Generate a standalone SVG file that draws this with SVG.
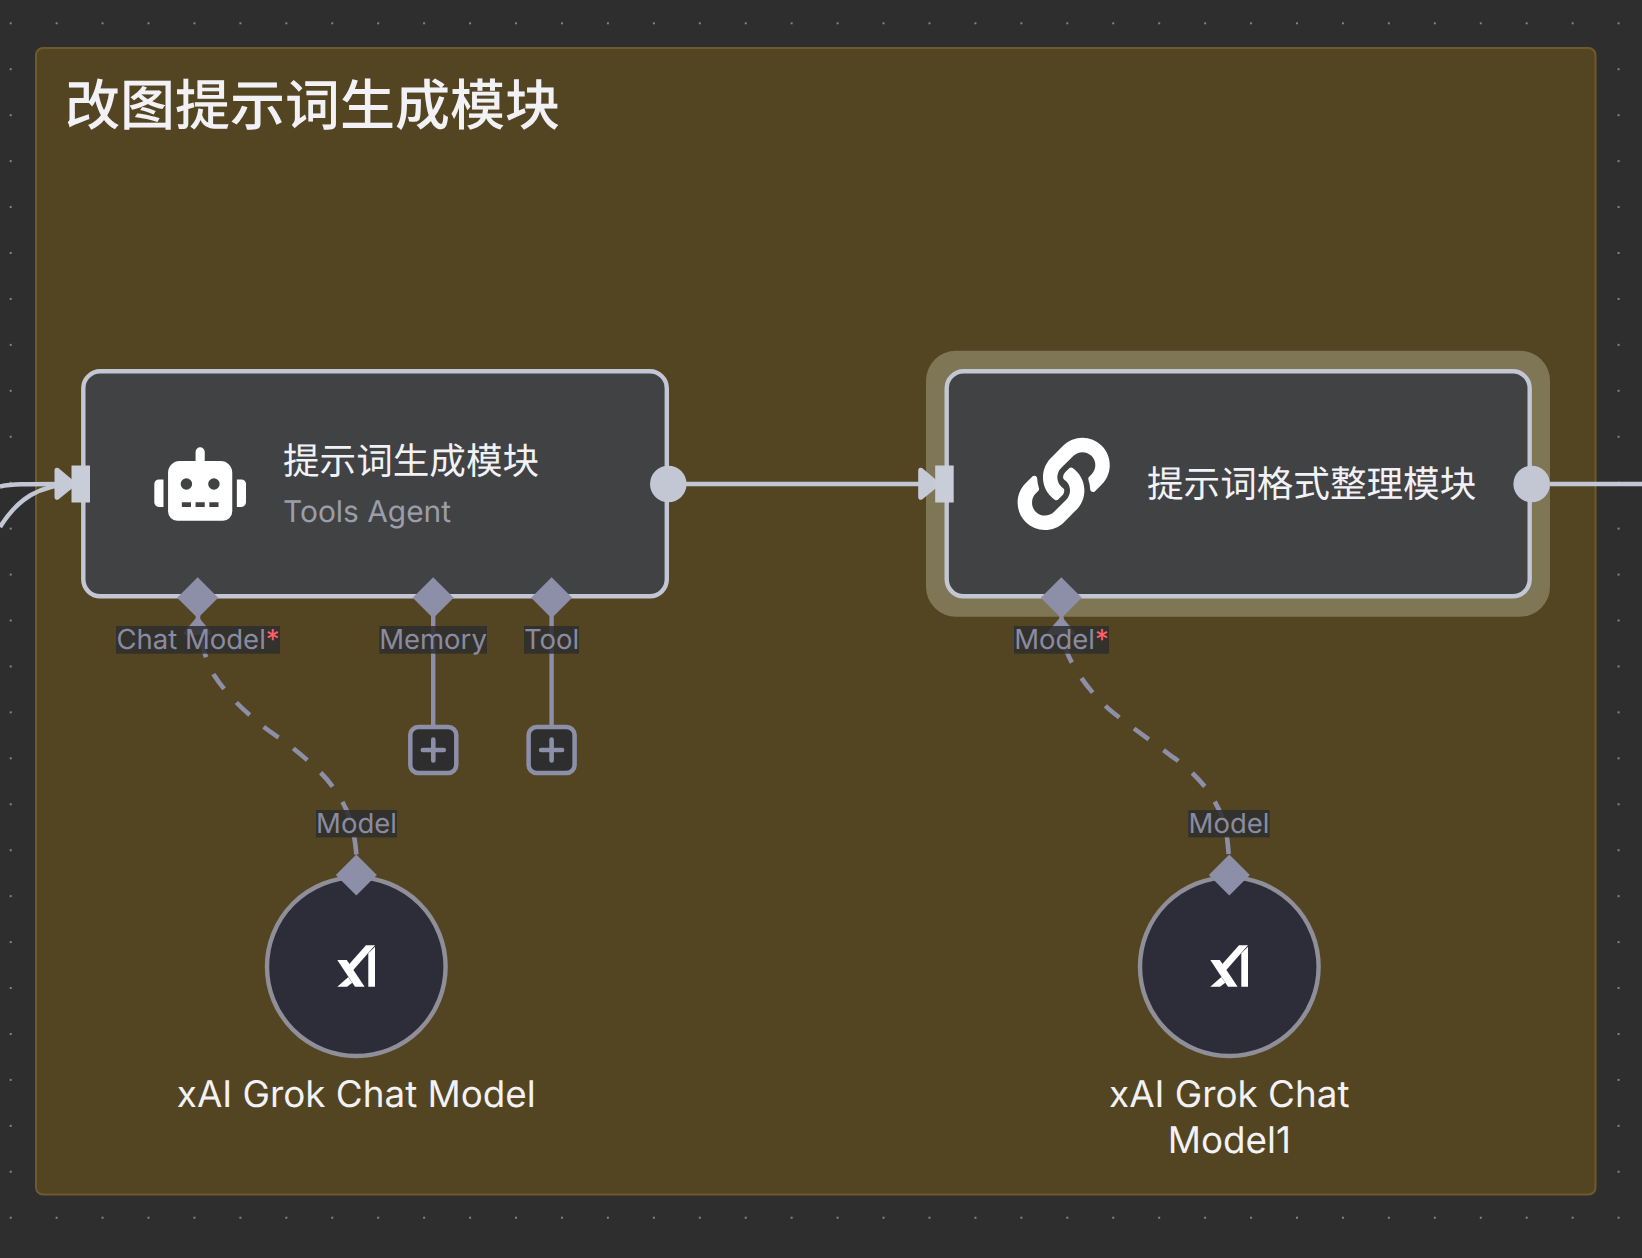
<svg xmlns="http://www.w3.org/2000/svg" width="1642" height="1258" viewBox="0 0 1642 1258">
<defs>
<pattern id="dots" x="9.7" y="22.3" width="45.94" height="45.94" patternUnits="userSpaceOnUse"><circle cx="1" cy="1" r="1.05" fill="#8f8f8f"/></pattern>
<path id="diamond" d="M0 -20.5L20.5 0L0 20.5L-20.5 0Z" fill="#8d8ea7"/>
<g id="inport"><path d="M-16 -13.5Q-16 -16 -13.5 -15L2 -2Q4 0 2 2L-13.5 14.5Q-16 15.5 -16 13Z" fill="#c6cad6" stroke="#c6cad6" stroke-width="2" stroke-linejoin="round"/><rect x="0" y="-18.5" width="18.5" height="37" fill="#c9cdd8"/></g>
<g id="addbtn"><rect x="-23" y="-23" width="46" height="46" rx="8" fill="#2e2e2e" stroke="#8d8ea7" stroke-width="4.5"/><path d="M-10.5 0H10.5M0 -10.5V10.5" fill="none" stroke="#8d8ea7" stroke-width="4.6" stroke-linecap="round"/></g>
<g id="grok" fill="#fff"><path d="M337.3 960H346.8L364.6 986.7H355Z"/><path d="M366 945.3H375L352 971.6L348 965.6Z"/><path d="M337.3 986.7L348.3 977L352.3 982.7L347 986.7Z"/><path d="M368.3 953.3L375 946.8V986.7H368.3Z"/></g>
</defs>
<style>
text{font-family:"Inter","Noto Sans CJK SC",sans-serif;text-rendering:geometricPrecision}
.node-box{fill:#414244;stroke:#c2c7d3;stroke-width:4.4}
.edge{fill:none;stroke:#c2c7d3;stroke-width:4.4}
.stem{fill:none;stroke:#8d8ea7;stroke-width:4.4}
.dash{fill:none;stroke:#8d8ea7;stroke-width:4.6;stroke-dasharray:18.3 18.3}
.name{font-size:36.6px;fill:#f2f2f6}
.port{font-size:27.5px;fill:#8a8ba0;text-anchor:middle}
.lblbg{fill:#2e2e2e;opacity:.85}
.star{fill:#ff5f6d}
.circle{fill:#2d2d3a;stroke:#8e8f98;stroke-width:4.4}
.caption{font-size:36.8px;fill:#f2f2f6;text-anchor:middle}
</style>
<rect width="1642" height="1258" fill="#2e2e2e"/>
<rect width="1642" height="1258" fill="url(#dots)"/>
<g id="group-frame">
<rect x="36" y="48" width="1559.5" height="1146.5" rx="7" fill="#534522" stroke="#6f5a2a" stroke-width="2"/>
<text x="65" y="125" font-size="55" font-weight="500" fill="#f2f2f6">改图提示词生成模块</text>
</g>
<g id="connectors">
<path class="edge" d="M0 486.5C12 484 25 484 60 484"/>
<path class="edge" d="M0 527C14 505 30 490 60 485"/>
<path class="edge" d="M686 484H925"/>
<path class="edge" d="M1550 484H1642"/>
<path class="stem" d="M433.2 600V725"/>
<path class="stem" d="M551.6 600V725"/>
<path class="dash" d="M198 603.4L198 620C199 640 205 657 214 675C226 694 245 712 264 727C274 735 285 741 294 749C304 757 312 764 321 773C330 782 337 792 343 803C351 817 355 835 356.7 858"/>
<path class="dash" d="M1061.5 609.5L1061.5 625C1062 640 1067 654 1072 663C1081 679 1095 698 1113 712.5C1130 726 1150 740 1172 756.5C1185 765 1198 778 1206 788C1214 798 1222 815 1225 825C1227 835 1228 845 1229 858"/>
</g>
<g id="node-agent">
<rect class="node-box" x="83.3" y="371.3" width="583.5" height="225" rx="17"/>
<use href="#inport" x="71.5" y="484"/>
<circle cx="668.3" cy="484" r="18.3" fill="#c2c7d3"/>
<path transform="translate(154.3 447.3) scale(.1433)" fill="#fff" d="M32,224H64V416H32A31.96166,31.96166,0,0,1,0,384V256A31.96166,31.96166,0,0,1,32,224Zm512-48V448a64.06328,64.06328,0,0,1-64,64H160a64.06328,64.06328,0,0,1-64-64V176a79.974,79.974,0,0,1,80-80H288V32a32,32,0,0,1,64,0V96H464A79.974,79.974,0,0,1,544,176ZM264,256a40,40,0,1,0-40,40A39.997,39.997,0,0,0,264,256Zm-8,128H192v32h64Zm96,0H288v32h64ZM456,256a40,40,0,1,0-40,40A39.997,39.997,0,0,0,456,256Zm-8,128H384v32h64ZM640,256V384a31.96166,31.96166,0,0,1-32,32H576V224h32A31.96166,31.96166,0,0,1,640,256Z"/>
<text class="name" x="283" y="474">提示词生成模块</text>
<text x="283" y="522" font-size="29.9" fill="#9b9daa">Tools Agent</text>
<use href="#diamond" x="197.7" y="597.7"/>
<use href="#diamond" x="433.2" y="597.7"/>
<use href="#diamond" x="551.6" y="597.7"/>
<path d="M197.7 616L211 632Q212 635 209 635H186Q183 635 184 632Z" fill="#8d8ea7"/>
<rect class="lblbg" x="116" y="626" width="164" height="27.7"/>
<text class="port" x="198" y="649">Chat Model<tspan class="star">*</tspan></text>
<rect class="lblbg" x="379.3" y="626" width="107.7" height="27.7"/>
<text class="port" x="433" y="649">Memory</text>
<rect class="lblbg" x="524" y="626" width="55" height="27.7"/>
<text class="port" x="551.5" y="649">Tool</text>
<use href="#addbtn" x="433.3" y="750"/>
<use href="#addbtn" x="551.6" y="750"/>
</g>
<g id="node-formatter">
<rect x="926" y="350.7" width="624" height="266" rx="30" fill="#7f7656"/>
<rect class="node-box" x="946.7" y="371.3" width="583" height="225" rx="17"/>
<use href="#inport" x="935.2" y="484"/>
<circle cx="1531.7" cy="484" r="18.3" fill="#c2c7d3"/>
<path transform="translate(1017.6 437.8) scale(.18)" fill="#fff" d="M326.612 185.391c59.747 59.809 58.927 155.698.36 214.59-.11.12-.24.25-.36.37l-67.2 67.2c-59.27 59.27-155.699 59.262-214.96 0-59.27-59.26-59.27-155.7 0-214.96l37.106-37.106c9.84-9.84 26.786-3.3 27.294 10.606.648 17.722 3.826 35.527 9.69 52.721 1.986 5.822.567 12.262-3.783 16.612l-13.087 13.087c-28.026 28.026-28.905 73.66-1.155 101.96 28.024 28.579 74.086 28.749 102.325.51l67.2-67.19c28.191-28.191 28.073-73.757 0-101.83-3.701-3.694-7.429-6.564-10.341-8.569a16.037 16.037 0 0 1-6.947-12.606c-.396-10.567 3.348-21.456 11.698-29.806l21.054-21.055c5.521-5.521 14.182-6.199 20.584-1.731a152.482 152.482 0 0 1 20.522 17.197zM467.547 44.449c-59.261-59.262-155.69-59.27-214.96 0l-67.2 67.2c-.12.12-.25.25-.36.37-58.566 58.892-59.387 154.781.36 214.59a152.454 152.454 0 0 0 20.521 17.196c6.402 4.468 15.064 3.789 20.584-1.731l21.054-21.055c8.35-8.35 12.094-19.239 11.698-29.806a16.037 16.037 0 0 0-6.947-12.606c-2.912-2.005-6.64-4.875-10.341-8.569-28.073-28.073-28.191-73.639 0-101.83l67.2-67.19c28.239-28.239 74.3-28.069 102.325.51 27.75 28.3 26.872 73.934-1.155 101.96l-13.087 13.087c-4.35 4.35-5.769 10.79-3.783 16.612 5.864 17.194 9.042 34.999 9.69 52.721.509 13.906 17.454 20.446 27.294 10.606l37.106-37.106c59.271-59.259 59.271-155.699.001-214.959z"/>
<text class="name" x="1147" y="497">提示词格式整理模块</text>
<use href="#diamond" x="1061.3" y="597.7"/>
<path d="M1061.3 616L1074.6 632Q1075.6 635 1072.6 635H1049.6Q1046.6 635 1047.6 632Z" fill="#8d8ea7"/>
<rect class="lblbg" x="1014" y="626" width="95" height="27.7"/>
<text class="port" x="1061.5" y="649">Model<tspan class="star">*</tspan></text>
</g>
<g id="node-grok">
<circle class="circle" cx="356.3" cy="966.7" r="89.3"/>
<use href="#grok"/>
<use href="#diamond" x="356.3" y="875"/>
<rect class="lblbg" x="316" y="810" width="81" height="27.4"/>
<text class="port" x="356.5" y="833">Model</text>
<text class="caption" x="356.3" y="1107">xAI Grok Chat Model</text>
</g>
<g id="node-grok-1">
<circle class="circle" cx="1229.3" cy="966.7" r="89.3"/>
<use href="#grok" x="873"/>
<use href="#diamond" x="1229.3" y="875"/>
<rect class="lblbg" x="1188.3" y="810" width="81.4" height="27.4"/>
<text class="port" x="1229" y="833">Model</text>
<text class="caption" x="1229.3" y="1107">xAI Grok Chat</text>
<text class="caption" x="1229.3" y="1153">Model1</text>
</g>
</svg>
